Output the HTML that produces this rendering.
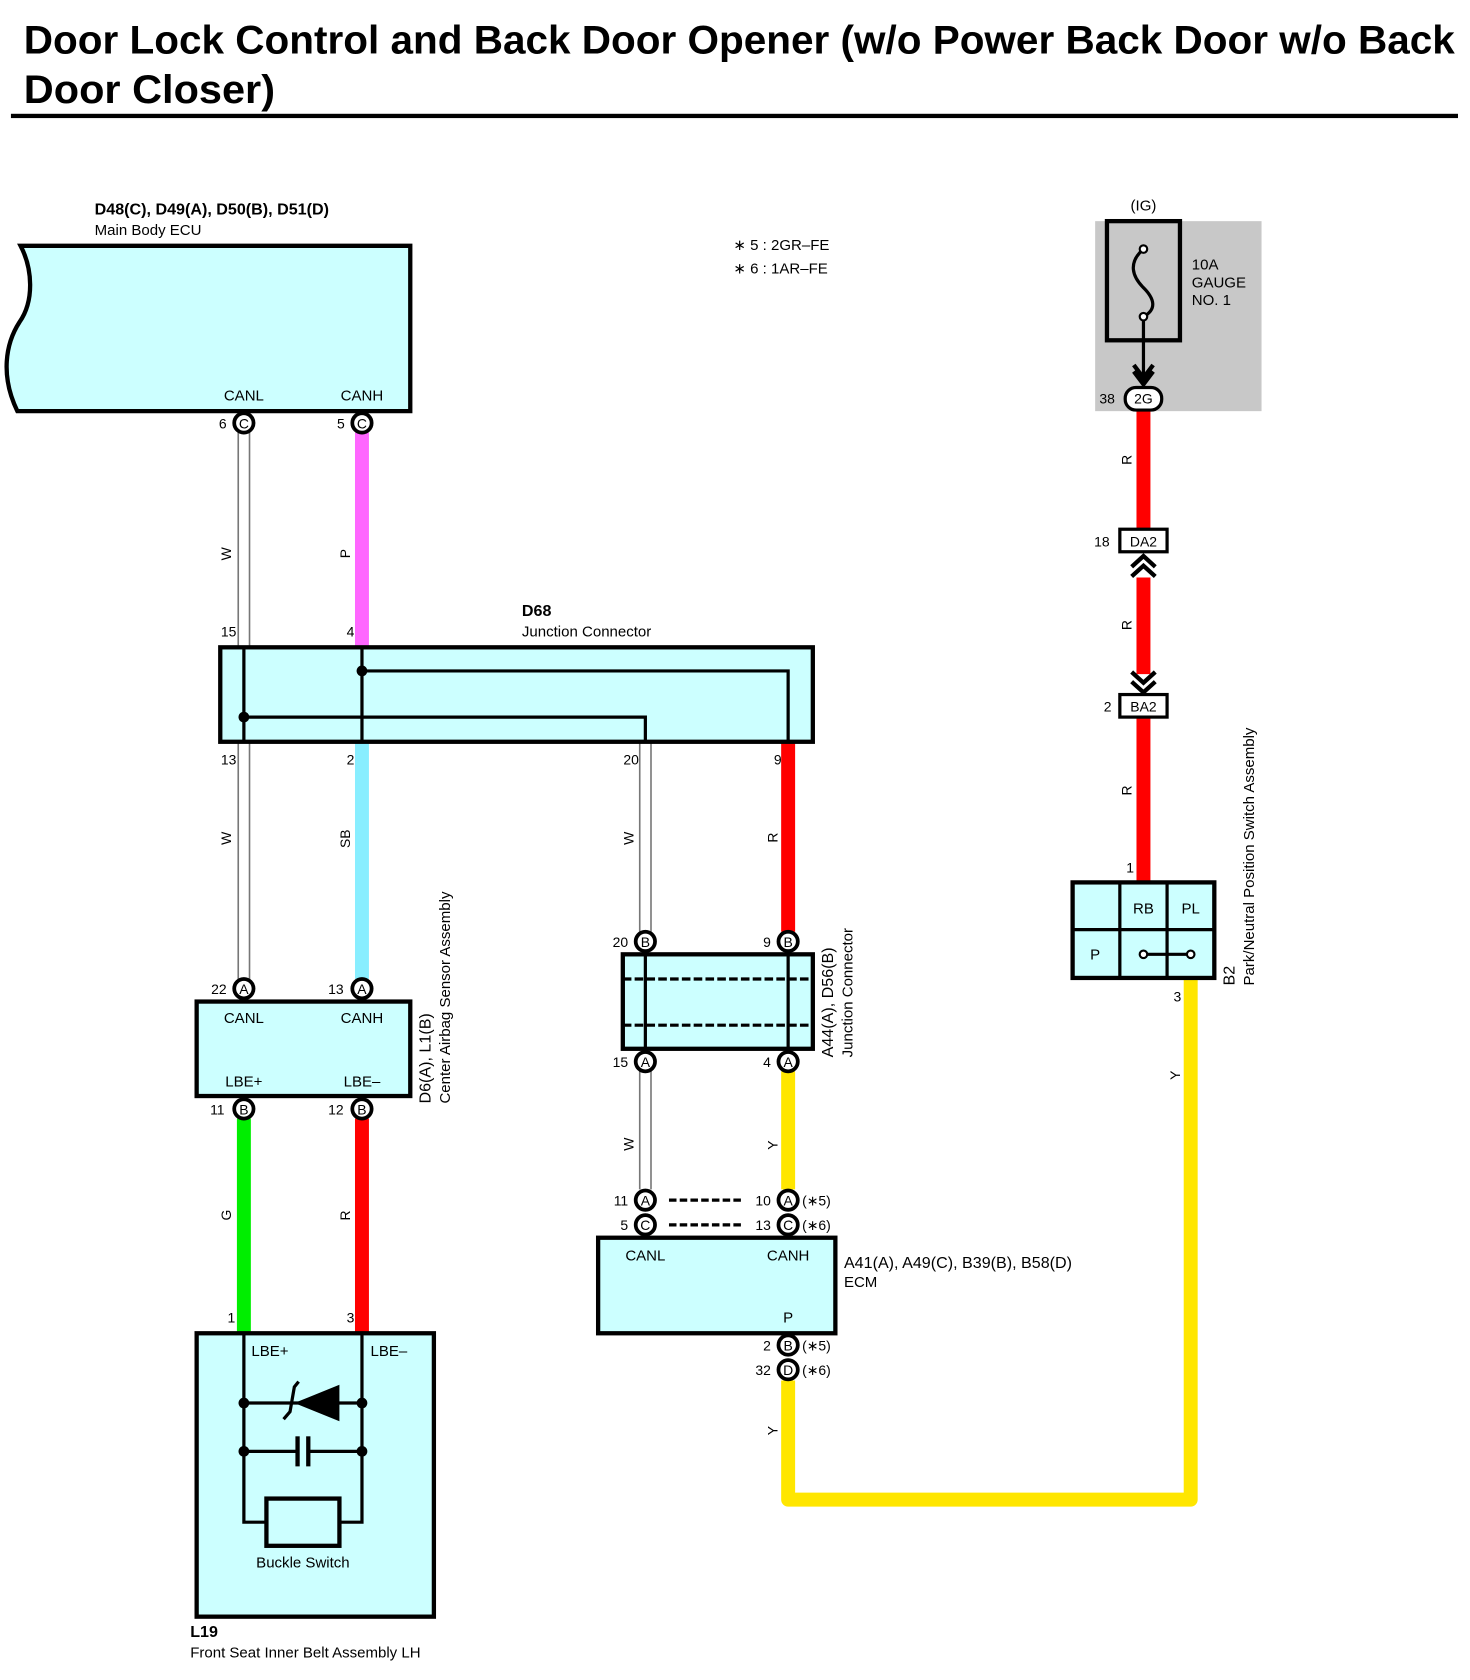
<!DOCTYPE html>
<html><head><meta charset="utf-8"><style>html,body{margin:0;padding:0;background:#fff}svg{display:block}text{font-family:"Liberation Sans",Arial,sans-serif}</style></head><body>
<svg width="1470" height="1680" viewBox="0 0 1369 1565" xmlns="http://www.w3.org/2000/svg">
<!-- Title -->
<text x="22" y="50" font-size="37" font-weight="bold" fill="#000" textLength="1333" lengthAdjust="spacingAndGlyphs">Door Lock Control and Back Door Opener (w/o Power Back Door w/o Back</text>
<text x="22" y="96" font-size="37" font-weight="bold" fill="#000" textLength="234" lengthAdjust="spacingAndGlyphs">Door Closer)</text>
<rect x="10" y="106" width="1348" height="4" fill="#000"/>

<!-- Notes -->
<text x="683" y="233" font-size="14">∗ 5 : 2GR–FE</text>
<text x="683" y="255" font-size="14">∗ 6 : 1AR–FE</text>

<!-- wires -->
<g fill="none" stroke-linecap="butt">
<g stroke="#777" stroke-width="12">
<line x1="227" y1="403" x2="227" y2="603"/><line x1="227" y1="691" x2="227" y2="912"/>
<line x1="601" y1="691" x2="601" y2="868"/><line x1="601" y1="998" x2="601" y2="1108"/>
</g>
<g stroke="#fff" stroke-width="9">
<line x1="227" y1="403" x2="227" y2="603"/><line x1="227" y1="691" x2="227" y2="912"/>
<line x1="601" y1="691" x2="601" y2="868"/><line x1="601" y1="998" x2="601" y2="1108"/>
</g>
<line x1="337" y1="403" x2="337" y2="603" stroke="#ff66ff" stroke-width="13"/>
<line x1="337" y1="691" x2="337" y2="912" stroke="#88eeff" stroke-width="13"/>
<line x1="734" y1="691" x2="734" y2="868" stroke="#ff0000" stroke-width="13"/>
<line x1="227" y1="1042" x2="227" y2="1242" stroke="#00ee00" stroke-width="13"/>
<line x1="337" y1="1042" x2="337" y2="1242" stroke="#ff0000" stroke-width="13"/>
<line x1="734" y1="998" x2="734" y2="1108" stroke="#ffe600" stroke-width="13"/>
<polyline points="734,1286 734,1397 1109,1397 1109,911" stroke="#ffe600" stroke-width="13" stroke-linejoin="round"/>
<line x1="1065" y1="381" x2="1065" y2="493" stroke="#ff0000" stroke-width="13"/>
<line x1="1065" y1="538" x2="1065" y2="628" stroke="#ff0000" stroke-width="13"/>
<line x1="1065" y1="668" x2="1065" y2="822" stroke="#ff0000" stroke-width="13"/>
</g>

<!-- wire labels -->
<g font-size="13">
<text transform="translate(215,522) rotate(-90)">W</text>
<text transform="translate(326,520) rotate(-90)">P</text>
<text transform="translate(215,787) rotate(-90)">W</text>
<text transform="translate(326,790) rotate(-90)">SB</text>
<text transform="translate(590,787) rotate(-90)">W</text>
<text transform="translate(724,785) rotate(-90)">R</text>
<text transform="translate(215,1137) rotate(-90)">G</text>
<text transform="translate(326,1137) rotate(-90)">R</text>
<text transform="translate(590,1072) rotate(-90)">W</text>
<text transform="translate(724,1071) rotate(-90)">Y</text>
<text transform="translate(724,1337) rotate(-90)">Y</text>
<text transform="translate(1099,1006) rotate(-90)">Y</text>
<text transform="translate(1054,433) rotate(-90)">R</text>
<text transform="translate(1054,587) rotate(-90)">R</text>
<text transform="translate(1054,741) rotate(-90)">R</text>
</g>

<!-- Main Body ECU -->
<text x="88" y="200" font-size="15" font-weight="bold">D48(C), D49(A), D50(B), D51(D)</text>
<text x="88" y="219" font-size="14">Main Body ECU</text>
<path d="M19,229 L382,229 L382,383 L16,383 C0,350 5,320 18,300 C32,280 30,250 19,229 Z" fill="#ccffff" stroke="#000" stroke-width="4"/>
<text x="227" y="373" font-size="14" text-anchor="middle">CANL</text>
<text x="337" y="373" font-size="14" text-anchor="middle">CANH</text>

<!-- D68 -->
<text x="486" y="574" font-size="15" font-weight="bold">D68</text>
<text x="486" y="593" font-size="14">Junction Connector</text>
<rect x="205" y="603" width="552" height="88" fill="#ccffff" stroke="#000" stroke-width="4"/>
<g stroke="#000" stroke-width="3" fill="none">
<line x1="227" y1="603" x2="227" y2="691"/>
<line x1="337" y1="603" x2="337" y2="691"/>
<polyline points="337,625 734,625 734,691"/>
<polyline points="227,668 601,668 601,691"/>
</g>
<circle cx="337" cy="625" r="5"/><circle cx="227" cy="668" r="5"/>

<!-- Center Airbag -->
<rect x="183" y="933" width="199" height="88" fill="#ccffff" stroke="#000" stroke-width="4"/>
<g font-size="14" text-anchor="middle">
<text x="227" y="953">CANL</text><text x="337" y="953">CANH</text>
<text x="227" y="1012">LBE+</text><text x="337" y="1012">LBE–</text>
</g>
<text transform="translate(401,1028) rotate(-90)" font-size="15">D6(A), L1(B)</text>
<text transform="translate(419,1028) rotate(-90)" font-size="14">Center Airbag Sensor Assembly</text>

<!-- L19 -->
<rect x="183" y="1242" width="221" height="264" fill="#ccffff" stroke="#000" stroke-width="4"/>
<g stroke="#000" stroke-width="3" fill="none">
<polyline points="227,1242 227,1418 248,1418"/>
<polyline points="337,1242 337,1418 316,1418"/>
<line x1="227" y1="1307" x2="337" y2="1307"/>
<line x1="227" y1="1352" x2="277" y2="1352"/><line x1="287" y1="1352" x2="337" y2="1352"/>
<line x1="277" y1="1338" x2="277" y2="1366" stroke-width="4"/><line x1="287" y1="1338" x2="287" y2="1366" stroke-width="4"/>
<rect x="248" y="1396" width="68" height="44" stroke-width="4"/>
<polyline points="264,1322 270,1315 274,1292 278,1287" stroke-width="3"/>
</g>
<polygon points="274,1307 316,1290 316,1324" fill="#000"/>
<circle cx="227" cy="1307" r="5"/><circle cx="337" cy="1307" r="5"/>
<circle cx="227" cy="1352" r="5"/><circle cx="337" cy="1352" r="5"/>
<g font-size="14">
<text x="234" y="1263">LBE+</text><text x="345" y="1263">LBE–</text>
<text x="282" y="1460" text-anchor="middle">Buckle Switch</text>
<text x="177" y="1525" font-size="15" font-weight="bold">L19</text>
<text x="177" y="1544">Front Seat Inner Belt Assembly LH</text>
</g>

<!-- A44 junction -->
<rect x="580" y="889" width="177" height="88" fill="#ccffff" stroke="#000" stroke-width="4"/>
<g stroke="#000" stroke-width="3">
<line x1="601" y1="889" x2="601" y2="977"/><line x1="734" y1="889" x2="734" y2="977"/>
<line x1="580" y1="912" x2="757" y2="912" stroke-dasharray="8,3"/>
<line x1="580" y1="955" x2="757" y2="955" stroke-dasharray="8,3"/>
<line x1="623" y1="1118" x2="690" y2="1118" stroke-dasharray="7,3"/>
<line x1="623" y1="1141" x2="690" y2="1141" stroke-dasharray="7,3"/>
</g>
<text transform="translate(776,985) rotate(-90)" font-size="15">A44(A), D56(B)</text>
<text transform="translate(794,985) rotate(-90)" font-size="14">Junction Connector</text>

<!-- ECM -->
<rect x="557" y="1153" width="221" height="89" fill="#ccffff" stroke="#000" stroke-width="4"/>
<g font-size="14" text-anchor="middle">
<text x="601" y="1174">CANL</text><text x="734" y="1174">CANH</text><text x="734" y="1232">P</text>
</g>
<text x="786" y="1181" font-size="15">A41(A), A49(C), B39(B), B58(D)</text>
<text x="786" y="1199" font-size="14">ECM</text>

<!-- Fuse -->
<rect x="1020" y="206" width="155" height="177" fill="#c8c8c8"/>
<text x="1065" y="196" font-size="14" text-anchor="middle">(IG)</text>
<rect x="1031" y="206" width="68" height="111" fill="#c8c8c8" stroke="#000" stroke-width="4"/>
<path d="M1065,232 C1050,245 1055,258 1065,268 C1075,278 1078,288 1065,295" fill="none" stroke="#000" stroke-width="3"/>
<circle cx="1065" cy="232" r="3.5" fill="#fff" stroke="#000" stroke-width="2"/>
<circle cx="1065" cy="295" r="3.5" fill="#fff" stroke="#000" stroke-width="2"/>
<line x1="1065" y1="298" x2="1065" y2="358" stroke="#000" stroke-width="3"/>
<polyline points="1056,340 1065,352 1074,340" fill="none" stroke="#000" stroke-width="4"/>
<polyline points="1056,346 1065,358 1074,346" fill="none" stroke="#000" stroke-width="4"/>
<g font-size="14"><text x="1110" y="251">10A</text><text x="1110" y="268">GAUGE</text><text x="1110" y="284">NO. 1</text></g>
<rect x="1048" y="361" width="34" height="21" rx="10" fill="#fff" stroke="#000" stroke-width="3"/>
<text x="1065" y="376" font-size="13" text-anchor="middle">2G</text>
<text x="1024" y="376" font-size="13">38</text>

<!-- DA2 / BA2 -->
<rect x="1043" y="493" width="44" height="21" fill="#fff" stroke="#000" stroke-width="3"/>
<text x="1065" y="509" font-size="13" text-anchor="middle">DA2</text>
<text x="1019" y="509" font-size="13">18</text>
<g fill="none" stroke="#000" stroke-width="4">
<polyline points="1054,528 1065,518 1076,528"/><polyline points="1054,537 1065,527 1076,537"/>
<polyline points="1054,626 1065,636 1076,626"/><polyline points="1054,635 1065,645 1076,635"/>
</g>
<rect x="1043" y="647" width="44" height="21" fill="#fff" stroke="#000" stroke-width="3"/>
<text x="1065" y="663" font-size="13" text-anchor="middle">BA2</text>
<text x="1028" y="663" font-size="13">2</text>
<text x="1049" y="813" font-size="13">1</text>

<!-- B2 -->
<rect x="999" y="822" width="132" height="89" fill="#ccffff" stroke="#000" stroke-width="4"/>
<g stroke="#000" stroke-width="3">
<line x1="1043" y1="822" x2="1043" y2="911"/><line x1="1087" y1="822" x2="1087" y2="911"/>
<line x1="999" y1="866" x2="1131" y2="866"/>
<line x1="1065" y1="889" x2="1109" y2="889"/>
</g>
<circle cx="1065" cy="889" r="3.5" fill="#fff" stroke="#000" stroke-width="2"/>
<circle cx="1109" cy="889" r="3.5" fill="#fff" stroke="#000" stroke-width="2"/>
<g font-size="14" text-anchor="middle"><text x="1065" y="851">RB</text><text x="1109" y="851">PL</text><text x="1020" y="894">P</text></g>
<text x="1093" y="933" font-size="13">3</text>
<text transform="translate(1150,918) rotate(-90)" font-size="15">B2</text>
<text transform="translate(1168,918) rotate(-90)" font-size="14">Park/Neutral Position Switch Assembly</text>

<!-- connectors -->
<g font-size="13" text-anchor="middle">
<g stroke="#000" stroke-width="3.5" fill="#fff">
<circle cx="227" cy="394" r="9"/><circle cx="337" cy="394" r="9"/>
<circle cx="227" cy="921" r="9"/><circle cx="337" cy="921" r="9"/>
<circle cx="227" cy="1033" r="9"/><circle cx="337" cy="1033" r="9"/>
<circle cx="601" cy="877" r="9"/><circle cx="734" cy="877" r="9"/>
<circle cx="601" cy="989" r="9"/><circle cx="734" cy="989" r="9"/>
<circle cx="601" cy="1118" r="9"/><circle cx="734" cy="1118" r="9"/>
<circle cx="601" cy="1141" r="9"/><circle cx="734" cy="1141" r="9"/>
<circle cx="734" cy="1253" r="9"/><circle cx="734" cy="1276" r="9"/>
</g>
<text x="227" y="399">C</text><text x="337" y="399">C</text>
<text x="227" y="926">A</text><text x="337" y="926">A</text>
<text x="227" y="1038">B</text><text x="337" y="1038">B</text>
<text x="601" y="882">B</text><text x="734" y="882">B</text>
<text x="601" y="994">A</text><text x="734" y="994">A</text>
<text x="601" y="1123">A</text><text x="734" y="1123">A</text>
<text x="601" y="1146">C</text><text x="734" y="1146">C</text>
<text x="734" y="1258">B</text><text x="734" y="1281">D</text>
</g>
<g font-size="13" text-anchor="end">
<text x="211" y="399">6</text><text x="321" y="399">5</text>
<text x="220" y="593">15</text><text x="330" y="593">4</text>
<text x="220" y="712">13</text><text x="330" y="712">2</text>
<text x="595" y="712">20</text><text x="728" y="712">9</text>
<text x="211" y="926">22</text><text x="320" y="926">13</text>
<text x="209" y="1038">11</text><text x="320" y="1038">12</text>
<text x="219" y="1232">1</text><text x="330" y="1232">3</text>
<text x="585" y="882">20</text><text x="718" y="882">9</text>
<text x="585" y="994">15</text><text x="718" y="994">4</text>
<text x="585" y="1123">11</text><text x="718" y="1123">10</text>
<text x="585" y="1146">5</text><text x="718" y="1146">13</text>
<text x="718" y="1258">2</text><text x="718" y="1281">32</text>
</g>
<g font-size="13">
<text x="747" y="1123">(∗5)</text><text x="747" y="1146">(∗6)</text>
<text x="747" y="1258">(∗5)</text><text x="747" y="1281">(∗6)</text>
</g>
</svg>
</body></html>
